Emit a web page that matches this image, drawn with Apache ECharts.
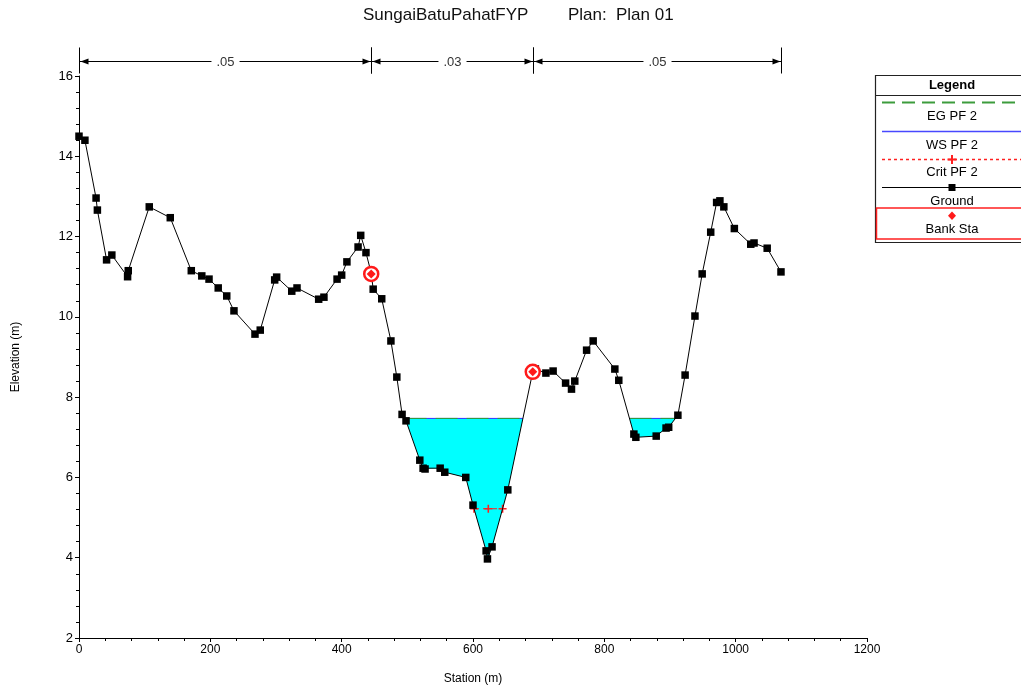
<!DOCTYPE html>
<html><head><meta charset="utf-8">
<script src="https://cdn.jsdelivr.net/npm/echarts@6/dist/echarts.min.js"></script>
<style>html,body{margin:0;padding:0;background:#fff}#c{width:1021px;height:693px}</style>
</head><body><div id="c"></div>
<script>
// ---- data ----
const stations   = [0, 9, 26, 28, 42, 50, 74, 75, 107, 139, 171, 187, 198, 212, 225, 236, 268, 276, 298, 301, 324, 332, 365, 373, 393, 400, 408, 425, 429, 437, 445, 448, 461, 475, 484, 492, 498, 519, 524, 527, 550, 557, 589, 600, 620, 622, 629, 653, 691, 695, 711, 722, 741, 750, 755, 773, 783, 816, 822, 845, 848, 879, 894, 898, 912, 923, 938, 949, 962, 971, 976, 982, 998, 1023, 1028, 1048, 1069];
const elevations = [14.5, 14.4, 12.96, 12.66, 11.42, 11.54, 11.0, 11.15, 12.74, 12.47, 11.15, 11.02, 10.94, 10.72, 10.52, 10.15, 9.57, 9.67, 10.92, 10.99, 10.64, 10.72, 10.44, 10.49, 10.94, 11.04, 11.37, 11.74, 12.03, 11.6, 11.09, 10.69, 10.45, 9.4, 8.5, 7.57, 7.41, 6.43, 6.23, 6.21, 6.23, 6.13, 6.0, 5.31, 4.17, 3.97, 4.27, 5.69, 8.63, 8.7, 8.6, 8.65, 8.35, 8.2, 8.4, 9.17, 9.4, 8.7, 8.42, 7.08, 7.0, 7.03, 7.23, 7.25, 7.55, 8.55, 10.02, 11.07, 12.11, 12.85, 12.89, 12.74, 12.2, 11.81, 11.84, 11.71, 11.12];
const bankStations   = [445, 691];
const bankElevations = [11.07, 8.63];
const wsElevation   = 7.47;   // WS PF 2
const egElevation   = 7.47;   // EG PF 2
const critElevation = 5.22;   // Crit PF 2
const poolRanges = [[480, 700], [820, 920]];   // station ranges holding water
const critRange  = [560, 680];
const nBreaks = [0, 445, 691, 1069];
const nValues = ['.05', '.03', '.05'];
const titleMain = 'SungaiBatuPahatFYP';
const titlePlanA = 'Plan:';
const titlePlanB = 'Plan 01';
const legendItems = ['EG PF 2', 'WS PF 2', 'Crit PF 2', 'Ground', 'Bank Sta'];

// ---- helpers: where ground crosses a level ----
function crossings(level, lo, hi) {
  const xs = [];
  for (let i = 0; i < stations.length - 1; i++) {
    const x0 = stations[i], x1 = stations[i + 1], y0 = elevations[i], y1 = elevations[i + 1];
    if (x0 < lo || x1 > hi) continue;
    if ((y0 - level) * (y1 - level) < 0) xs.push(x0 + (x1 - x0) * (level - y0) / (y1 - y0));
  }
  return [xs[0], xs[xs.length - 1]];
}
const pools = poolRanges.map(r => crossings(wsElevation, r[0], r[1]));
const waterPolys = pools.map(([xl, xr]) => {
  const pts = [[xl, wsElevation]];
  stations.forEach((x, i) => { if (x > xl && x < xr) pts.push([x, elevations[i]]); });
  pts.push([xr, wsElevation]);
  return pts;
});
const critX = crossings(critElevation, critRange[0], critRange[1]);

const FONT = '"Liberation Sans", Arial, sans-serif';
const chart = echarts.init(document.getElementById('c'));

const series = [];
series.push({
  type: 'custom', z: 1, silent: true,
  data: waterPolys.map(p => [p[0][0], p[p.length - 1][0]]),
  encode: { x: [0, 1] },
  renderItem: (params, api) => ({
    type: 'polygon',
    shape: { points: waterPolys[params.dataIndex].map(p => api.coord(p)) },
    style: { fill: '#00ffff', stroke: null }
  })
});
pools.forEach(([xl, xr]) => {
  series.push({ type: 'line', z: 3, silent: true, symbol: 'none', data: [[xl, wsElevation], [xr, wsElevation]],
    lineStyle: { color: '#3030ff', width: 1 } });
  series.push({ type: 'line', z: 4, silent: true, symbol: 'none', data: [[xl, egElevation], [xr, egElevation]],
    lineStyle: { color: '#30a030', width: 1, type: [22, 9] } });
});
series.push({
  type: 'line', z: 4, silent: true,
  data: [[critX[0], critElevation], [(critX[0] + critX[1]) / 2, critElevation], [critX[1], critElevation]],
  lineStyle: { color: '#ff2020', width: 1, type: [5, 4] },
  symbol: 'path://M4,0h2v4h4v2h-4v4h-2v-4h-4v-2h4z', symbolSize: 8,
  itemStyle: { color: '#ff2020' }
});
series.push({
  type: 'line', z: 5, silent: true,
  data: stations.map((x, i) => [x, elevations[i]]),
  lineStyle: { color: '#000', width: 1 },
  symbol: 'rect', symbolSize: 7.5, itemStyle: { color: '#000' }
});
series.push({
  type: 'custom', z: 20, silent: true,
  data: bankStations.map((x, i) => [x, bankElevations[i]]),
  encode: { x: 0, y: 1 },
  renderItem: (params, api) => {
    const p = api.coord([api.value(0), api.value(1)]);
    return { type: 'group', children: [
      { type: 'circle', shape: { cx: p[0], cy: p[1], r: 7 }, style: { fill: '#fff', stroke: '#ff1a1a', lineWidth: 2.5 } },
      { type: 'polygon', shape: { points: [[p[0], p[1] - 4.5], [p[0] + 4.5, p[1]], [p[0], p[1] + 4.5], [p[0] - 4.5, p[1]]] }, style: { fill: '#ff1a1a' } }
    ]};
  }
});
series.push({
  type: 'custom', z: 8, silent: true, clip: false,
  data: nValues.map((v, i) => [nBreaks[i], nBreaks[i + 1]]),
  encode: { x: [0, 1] },
  renderItem: (params, api) => {
    const i = params.dataIndex;
    const a = api.coord([nBreaks[i], 16]), b = api.coord([nBreaks[i + 1], 16]);
    const y = Math.round(a[1] - 15) + 0.5;
    const x0 = Math.round(a[0]) + 0.5, x1 = Math.round(b[0]) + 0.5;
    return { type: 'group', children: [
      { type: 'line', shape: { x1: x0, y1: y, x2: x1, y2: y }, style: { stroke: '#000', lineWidth: 1 } },
      { type: 'polygon', shape: { points: [[x0 + 1, y], [x0 + 9, y - 3], [x0 + 9, y + 3]] }, style: { fill: '#000' } },
      { type: 'polygon', shape: { points: [[x1 - 1, y], [x1 - 9, y - 3], [x1 - 9, y + 3]] }, style: { fill: '#000' } },
      { type: 'line', shape: { x1: x0, y1: y - 14, x2: x0, y2: y + 12 }, style: { stroke: '#000', lineWidth: 1 } },
      { type: 'line', shape: { x1: x1, y1: y - 14, x2: x1, y2: y + 12 }, style: { stroke: '#000', lineWidth: 1 } },
      { type: 'text', style: { text: nValues[i], x: (x0 + x1) / 2, y: y + 1, align: 'center', verticalAlign: 'middle',
          fill: '#333', font: '13px ' + FONT, backgroundColor: '#fff', padding: [0, 5] } }
    ]};
  }
});

// ---- legend box (graphic) ----
const LX = 952;
const LF = '13px ' + FONT;
const g = [
  { type: 'text', left: 363, top: 7, style: { text: titleMain, font: '17px ' + FONT, fill: '#111' } },
  { type: 'text', left: 568, top: 7, style: { text: titlePlanA, font: '17px ' + FONT, fill: '#111' } },
  { type: 'text', left: 616, top: 7, style: { text: titlePlanB, font: '17px ' + FONT, fill: '#111' } },
  { type: 'rect', shape: { x: 875.5, y: 75.5, width: 170, height: 167 }, style: { fill: '#fff', stroke: '#222', lineWidth: 1.2 } },
  { type: 'line', shape: { x1: 875, y1: 95.5, x2: 1021, y2: 95.5 }, style: { stroke: '#222', lineWidth: 1 } },
  { type: 'text', x: LX, y: 85, style: { text: 'Legend', font: 'bold 13px ' + FONT, fill: '#000', align: 'center', verticalAlign: 'middle' } },
  { type: 'line', shape: { x1: 882, y1: 102.5, x2: 1021, y2: 102.5 }, style: { stroke: '#3c9c3c', lineWidth: 2, lineDash: [13, 7] } },
  { type: 'text', x: LX, y: 116.5, style: { text: legendItems[0], font: LF, fill: '#000', align: 'center', verticalAlign: 'middle' } },
  { type: 'line', shape: { x1: 882, y1: 131.5, x2: 1021, y2: 131.5 }, style: { stroke: '#4848ff', lineWidth: 1.5 } },
  { type: 'text', x: LX, y: 145, style: { text: legendItems[1], font: LF, fill: '#000', align: 'center', verticalAlign: 'middle' } },
  { type: 'line', shape: { x1: 882, y1: 159.5, x2: 1021, y2: 159.5 }, style: { stroke: '#ff2020', lineWidth: 1.5, lineDash: [3, 3] } },
  { type: 'polygon', shape: { points: [[LX-1,155],[LX+1,155],[LX+1,158.5],[LX+4.5,158.5],[LX+4.5,160.5],[LX+1,160.5],[LX+1,164],[LX-1,164],[LX-1,160.5],[LX-4.5,160.5],[LX-4.5,158.5],[LX-1,158.5]] }, style: { fill: '#ff2020' } },
  { type: 'text', x: LX, y: 172, style: { text: legendItems[2], font: LF, fill: '#000', align: 'center', verticalAlign: 'middle' } },
  { type: 'line', shape: { x1: 882, y1: 187.5, x2: 1021, y2: 187.5 }, style: { stroke: '#000', lineWidth: 1 } },
  { type: 'rect', shape: { x: LX - 3.5, y: 184, width: 7, height: 7 }, style: { fill: '#000' } },
  { type: 'text', x: LX, y: 201.5, style: { text: legendItems[3], font: LF, fill: '#000', align: 'center', verticalAlign: 'middle' } },
  { type: 'rect', shape: { x: 876.5, y: 208, width: 160, height: 31 }, style: { fill: null, stroke: '#ff2020', lineWidth: 1.5 } },
  { type: 'polygon', shape: { points: [[LX, 211.5], [LX + 4, 215.7], [LX, 219.9], [LX - 4, 215.7]] }, style: { fill: '#ff1a1a' } },
  { type: 'text', x: LX, y: 229.5, style: { text: legendItems[4], font: LF, fill: '#000', align: 'center', verticalAlign: 'middle' } }
];

chart.setOption({
  animation: false,
  backgroundColor: '#fff',
  textStyle: { fontFamily: FONT },
  grid: { left: 79, right: 154, top: 76, bottom: 55, containLabel: false },
  xAxis: {
    type: 'value', min: 0, max: 1200, interval: 200,
    name: 'Station (m)', nameLocation: 'middle', nameGap: 35,
    nameTextStyle: { color: '#000', fontSize: 12, fontFamily: FONT },
    axisLine: { onZero: false, lineStyle: { color: '#000', width: 1 } },
    axisTick: { show: true, inside: false, length: 4, lineStyle: { color: '#000' } },
    minorTick: { show: true, splitNumber: 5, length: 3, lineStyle: { color: '#000' } },
    axisLabel: { color: '#000', fontSize: 12, fontFamily: FONT, margin: 6, formatter: v => String(v) },
    splitLine: { show: false }, minorSplitLine: { show: false }
  },
  yAxis: {
    type: 'value', min: 2, max: 16, interval: 2,
    name: 'Elevation (m)', nameLocation: 'middle', nameGap: 57,
    nameTextStyle: { color: '#000', fontSize: 12, fontFamily: FONT },
    axisLine: { show: true, onZero: false, lineStyle: { color: '#000', width: 1 } },
    axisTick: { show: true, inside: false, length: 4, lineStyle: { color: '#000' } },
    minorTick: { show: true, splitNumber: 5, length: 3, lineStyle: { color: '#000' } },
    axisLabel: { color: '#000', fontSize: 13, fontFamily: FONT, margin: 6 },
    splitLine: { show: false }, minorSplitLine: { show: false }
  },
  graphic: g,
  series: series
});
</script>
</body></html>
